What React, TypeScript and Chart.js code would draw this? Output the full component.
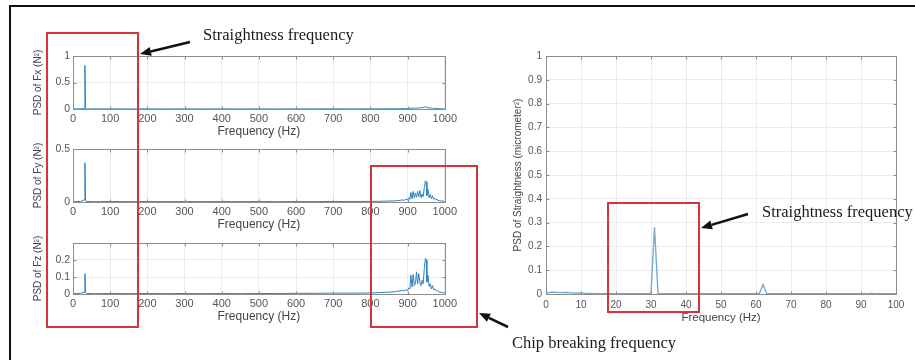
import React, { useEffect, useRef } from "react";
import { Chart, registerables } from "chart.js";

Chart.register(...registerables);

// ---------- DATA ----------
// Left panels: PSD of cutting forces (0-1000 Hz)
const LEFT_FREQ = [
  0, 10, 20, 30, 32, 34, 36, 40, 60,
  100, 150, 200, 250, 300, 350, 400, 450, 500, 550, 600, 650, 700, 750, 800,
  820, 840, 860, 870, 880, 885, 890, 895, 900, 903,
  906, 909, 912, 915, 918, 921, 924, 927, 930, 933,
  936, 939, 942, 945, 948, 950, 952, 955, 958, 961,
  964, 967, 970, 973, 976, 979, 982, 985, 990, 995,
  1000,
];
const FX_PSD = [
  0.002, 0.002, 0.003, 0.01, 0.82, 0.01, 0.003, 0.002, 0.002,
  0.002, 0.001, 0.002, 0.001, 0.002, 0.001, 0.002, 0.001, 0.002, 0.001, 0.002, 0.002, 0.003, 0.002, 0.003,
  0.003, 0.004, 0.005, 0.004, 0.006, 0.008, 0.005, 0.01, 0.008, 0.012,
  0.01, 0.015, 0.012, 0.018, 0.014, 0.02, 0.016, 0.022, 0.018, 0.025,
  0.02, 0.03, 0.025, 0.035, 0.05, 0.04, 0.03, 0.02, 0.025, 0.015,
  0.02, 0.012, 0.015, 0.01, 0.012, 0.008, 0.01, 0.006, 0.005, 0.004,
  0.003,
];
const FY_PSD = [
  0.003, 0.004, 0.005, 0.02, 0.37, 0.02, 0.005, 0.004, 0.003,
  0.004, 0.003, 0.004, 0.003, 0.004, 0.003, 0.004, 0.003, 0.004, 0.003, 0.004, 0.004, 0.005, 0.005, 0.006,
  0.006, 0.008, 0.01, 0.012, 0.015, 0.02, 0.015, 0.025, 0.02, 0.04,
  0.025, 0.09, 0.03, 0.1, 0.04, 0.085, 0.045, 0.1, 0.05, 0.11,
  0.04, 0.075, 0.05, 0.14, 0.2, 0.19, 0.06, 0.12, 0.04, 0.07,
  0.03, 0.06, 0.025, 0.035, 0.02, 0.025, 0.015, 0.012, 0.01, 0.008,
  0.005,
];
const FZ_PSD = [
  0.002, 0.003, 0.004, 0.01, 0.12, 0.01, 0.004, 0.003, 0.002,
  0.003, 0.002, 0.003, 0.002, 0.003, 0.002, 0.003, 0.002, 0.003, 0.003, 0.004, 0.004, 0.005, 0.005, 0.006,
  0.008, 0.01, 0.012, 0.015, 0.018, 0.022, 0.018, 0.025, 0.02, 0.035,
  0.03, 0.11, 0.04, 0.115, 0.05, 0.06, 0.13, 0.06, 0.12, 0.07,
  0.05, 0.08, 0.06, 0.15, 0.21, 0.2, 0.07, 0.11, 0.045, 0.06,
  0.03, 0.05, 0.025, 0.03, 0.02, 0.022, 0.015, 0.012, 0.01, 0.008,
  0.005,
];

// Right panel: PSD of straightness (0-100 Hz)
const RIGHT_FREQ = [0, 2, 4, 6, 8, 10, 12, 15, 20, 25, 29, 30, 31, 32, 33, 40, 50, 55, 60, 61, 62, 63, 64, 70, 80, 90, 92, 93, 94, 100];
const STRAIGHT_PSD = [0.005, 0.008, 0.006, 0.007, 0.004, 0.005, 0.002, 0.001, 0.001, 0.001, 0.001, 0.002, 0.28, 0.002, 0.001, 0.001, 0.001, 0.001, 0.001, 0.003, 0.04, 0.003, 0.001, 0.001, 0.001, 0.001, 0.001, 0.004, 0.001, 0.001];

// Tick labels
const LEFT_X_TICKS = [0, 100, 200, 300, 400, 500, 600, 700, 800, 900, 1000];
const FX_Y_TICKS = [0, 0.5, 1];
const FY_Y_TICKS = [0, 0.5];
const FZ_Y_TICKS = [0, 0.1, 0.2];
const RIGHT_X_TICKS = [0, 10, 20, 30, 40, 50, 60, 70, 80, 90, 100];
const RIGHT_Y_TICKS = [0, 0.1, 0.2, 0.3, 0.4, 0.5, 0.6, 0.7, 0.8, 0.9, 1];

// Text
const X_TITLE = "Frequency (Hz)";
const FX_TITLE = "PSD of Fx (N²)";
const FY_TITLE = "PSD of Fy (N²)";
const FZ_TITLE = "PSD of Fz (N²)";
const RIGHT_Y_TITLE = "PSD of Straightness (micrometer²)";
const NOTE_STRAIGHT = "Straightness frequency";
const NOTE_CHIP = "Chip breaking frequency";

// ---------- STYLE ----------
const SANS = "'Liberation Sans', Arial, Helvetica, sans-serif";
const SERIF = "'Liberation Serif', 'Times New Roman', serif";
const GRID = "#ebebeb";
const TICK_COLOR = "#555555";
const BOX_COLOR = "#8c8c8c";
const RED = "#d2363b";

const fmt = (v: any) => String(+Number(v).toFixed(3));

const boxPlugin = {
  id: "matlabBox",
  afterDraw(chart: any) {
    const { ctx, chartArea, scales } = chart;
    const { left, right, top, bottom } = chartArea;
    const x = scales.x;
    const y = scales.y;
    ctx.save();
    ctx.strokeStyle = BOX_COLOR;
    ctx.lineWidth = 1;
    const L = Math.round(left) + 0.5;
    const T = Math.round(top) + 0.5;
    const R = Math.round(right) + 0.5;
    const B = Math.round(bottom) + 0.5;
    ctx.strokeRect(L, T, R - L, B - T);
    ctx.beginPath();
    x.ticks.forEach((t: any) => {
      const px = Math.round(x.getPixelForValue(t.value)) + 0.5;
      ctx.moveTo(px, B);
      ctx.lineTo(px, B - 3);
      ctx.moveTo(px, T);
      ctx.lineTo(px, T + 3);
    });
    y.ticks.forEach((t: any) => {
      const py = Math.round(y.getPixelForValue(t.value)) + 0.5;
      ctx.moveTo(L, py);
      ctx.lineTo(L + 3, py);
      ctx.moveTo(R, py);
      ctx.lineTo(R - 3, py);
    });
    ctx.stroke();
    ctx.restore();
  },
};

type PanelSpec = {
  left: number;
  top: number;
  width: number;
  height: number;
  freqs: number[];
  values: number[];
  color: string;
  lineWidth: number;
  xMax: number;
  yMax: number;
  xTicks: number[];
  yTicks: number[];
  yTitle: string;
  padLeft: number;
  padRight: number;
  padTop: number;
  yAxisWidth: number;
  xAxisHeight: number;
  xTickPad: number;
  yTickPad: number;
  xTickFont: number;
  yTickFont: number;
  xTitleFont: number;
  yTitleFont: number;
};

function Panel(p: PanelSpec) {
  const ref = useRef<HTMLCanvasElement>(null);
  useEffect(() => {
    const chart = new Chart(ref.current as HTMLCanvasElement, {
      type: "line",
      data: {
        datasets: [
          {
            data: p.freqs.map((f, i) => ({ x: f, y: p.values[i] })),
            borderColor: p.color,
            borderWidth: p.lineWidth,
            pointRadius: 0,
            tension: 0,
            fill: false,
          },
        ],
      },
      options: {
        responsive: false,
        animation: false,
        devicePixelRatio: 1,
        layout: { padding: { left: p.padLeft, right: p.padRight, top: p.padTop, bottom: 0 } },
        plugins: { legend: { display: false }, tooltip: { enabled: false } },
        scales: {
          x: {
            type: "linear",
            min: 0,
            max: p.xMax,
            afterBuildTicks: (s: any) => {
              s.ticks = p.xTicks.map((v) => ({ value: v }));
            },
            afterFit: (s: any) => {
              s.height = p.xAxisHeight;
            },
            grid: { color: GRID, drawTicks: false },
            border: { display: false },
            ticks: {
              autoSkip: false,
              maxRotation: 0,
              padding: p.xTickPad,
              color: TICK_COLOR,
              font: { family: SANS, size: p.xTickFont },
              callback: fmt,
            },
            title: {
              display: true,
              text: X_TITLE,
              color: "#444444",
              font: { family: SANS, size: p.xTitleFont },
              padding: { top: 0, bottom: 1 },
            },
          },
          y: {
            type: "linear",
            min: 0,
            max: p.yMax,
            afterBuildTicks: (s: any) => {
              s.ticks = p.yTicks.map((v) => ({ value: v }));
            },
            afterFit: (s: any) => {
              s.width = p.yAxisWidth;
            },
            grid: { color: GRID, drawTicks: false },
            border: { display: false },
            ticks: {
              autoSkip: false,
              padding: p.yTickPad,
              color: TICK_COLOR,
              font: { family: SANS, size: p.yTickFont },
              callback: fmt,
            },
            title: {
              display: true,
              text: p.yTitle,
              color: "#444444",
              font: { family: SANS, size: p.yTitleFont },
              padding: { top: 2, bottom: 0 },
            },
          },
        },
      },
      plugins: [boxPlugin],
    } as any);
    return () => chart.destroy();
  }, []);
  return (
    <canvas
      ref={ref}
      width={p.width}
      height={p.height}
      style={{ position: "absolute", left: p.left, top: p.top, width: p.width, height: p.height }}
    />
  );
}

const LEFT_COMMON = {
  left: 18,
  width: 442,
  freqs: LEFT_FREQ,
  color: "#2f84bd",
  lineWidth: 1,
  xMax: 1000,
  xTicks: LEFT_X_TICKS,
  padLeft: 12,
  padRight: 15,
  padTop: 10,
  yAxisWidth: 43,
  xAxisHeight: 31,
  xTickPad: 3,
  yTickPad: 3,
  xTickFont: 11,
  yTickFont: 10.5,
  xTitleFont: 12,
  yTitleFont: 10,
};

function Arrow({ x1, y1, x2, y2 }: { x1: number; y1: number; x2: number; y2: number }) {
  const dx = x2 - x1;
  const dy = y2 - y1;
  const len = Math.sqrt(dx * dx + dy * dy);
  const ux = dx / len;
  const uy = dy / len;
  const head = 11;
  const hw = 4.5;
  const bx = x2 - ux * head;
  const by = y2 - uy * head;
  const pts = `${x2},${y2} ${bx - uy * hw},${by + ux * hw} ${bx + uy * hw},${by - ux * hw}`;
  return (
    <g>
      <line x1={x1} y1={y1} x2={bx} y2={by} stroke="#111" strokeWidth={2.5} />
      <polygon points={pts} fill="#111" />
    </g>
  );
}

function RedBox({ left, top, width, height }: { left: number; top: number; width: number; height: number }) {
  return (
    <div
      style={{
        position: "absolute",
        left,
        top,
        width,
        height,
        border: `2px solid ${RED}`,
        boxSizing: "border-box",
      }}
    />
  );
}

function Note({ text, left, top }: { text: string; left: number; top: number }) {
  return (
    <div
      style={{
        position: "absolute",
        left,
        top,
        fontFamily: SERIF,
        fontSize: 16.5,
        lineHeight: "18px",
        color: "#1a1a1a",
        whiteSpace: "nowrap",
      }}
    >
      {text}
    </div>
  );
}

export default function App() {
  return (
    <div
      style={{
        position: "absolute",
        left: 0,
        top: 0,
        width: 915,
        height: 360,
        overflow: "hidden",
        background: "#ffffff",
      }}
    >
      <div
        style={{
          position: "absolute",
          left: 9,
          top: 5,
          width: 920,
          height: 400,
          borderTop: "2px solid #111",
          borderLeft: "2px solid #111",
        }}
      />
      <Panel {...LEFT_COMMON} top={46} height={94} values={FX_PSD} yMax={1} yTicks={FX_Y_TICKS} yTitle={FX_TITLE} />
      <Panel {...LEFT_COMMON} top={139} height={94} values={FY_PSD} yMax={0.5} yTicks={FY_Y_TICKS} yTitle={FY_TITLE} />
      <Panel {...LEFT_COMMON} top={233} height={92} values={FZ_PSD} yMax={0.3} yTicks={FZ_Y_TICKS} yTitle={FZ_TITLE} />
      <Panel
        left={490}
        top={46}
        width={425}
        height={280}
        freqs={RIGHT_FREQ}
        values={STRAIGHT_PSD}
        color="#6fa8cc"
        lineWidth={1.3}
        xMax={100}
        yMax={1}
        xTicks={RIGHT_X_TICKS}
        yTicks={RIGHT_Y_TICKS}
        yTitle={RIGHT_Y_TITLE}
        padLeft={20}
        padRight={19}
        padTop={10}
        yAxisWidth={36}
        xAxisHeight={32}
        xTickPad={5}
        yTickPad={4}
        xTickFont={10}
        yTickFont={10}
        xTitleFont={11.5}
        yTitleFont={10}
      />
      <RedBox left={46} top={32} width={93} height={296} />
      <RedBox left={370} top={165} width={108} height={163} />
      <RedBox left={607} top={202} width={93} height={111} />
      <svg
        width={915}
        height={360}
        style={{ position: "absolute", left: 0, top: 0, pointerEvents: "none" }}
      >
        <Arrow x1={190} y1={42} x2={140} y2={54} />
        <Arrow x1={508} y1={327} x2={479} y2={313} />
        <Arrow x1={748} y1={214} x2={701} y2={228} />
      </svg>
      <Note text={NOTE_STRAIGHT} left={203} top={26} />
      <Note text={NOTE_STRAIGHT} left={762} top={203} />
      <Note text={NOTE_CHIP} left={512} top={334} />
    </div>
  );
}
